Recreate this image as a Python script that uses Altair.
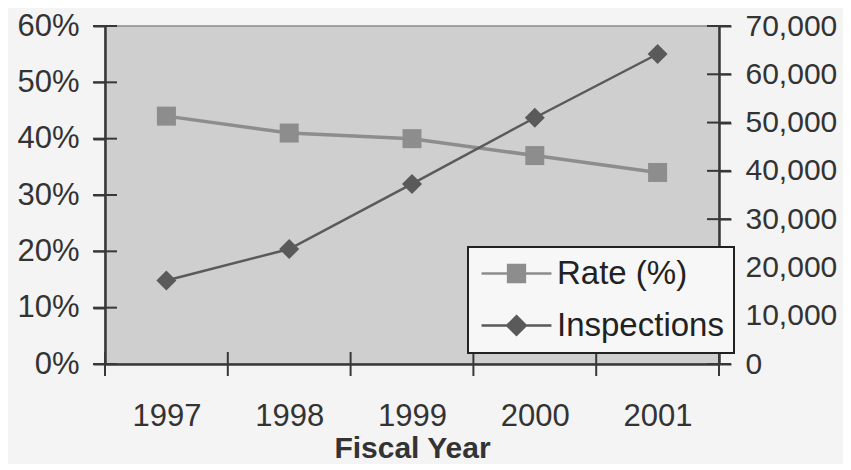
import altair as alt
import pandas as pd

years = [1997, 1998, 1999, 2000, 2001]
rate = [0.44, 0.41, 0.40, 0.37, 0.34]
inspections = [17300, 23800, 37300, 51000, 64200]
series_names = ["Rate (%)", "Inspections"]
rate_ticks = [0, 0.1, 0.2, 0.3, 0.4, 0.5, 0.6]
insp_ticks = [0, 10000, 20000, 30000, 40000, 50000, 60000, 70000]
year_bounds = [1996.5, 1997.5, 1998.5, 1999.5, 2000.5, 2001.5]

W, H = 614, 338
rate_color = "#8d8d8d"
insp_color = "#5a5a5a"
axis_color = "#383838"
FONT = "Liberation Sans"

df = pd.DataFrame({"year": years, "rate": rate, "inspections": inspections})
legend_df = pd.DataFrame({"series": series_names})

x_scale = alt.Scale(domain=[1996.5, 2001.5], nice=False, zero=False)
rate_scale = alt.Scale(domain=[0, 0.6], nice=False)
insp_scale = alt.Scale(domain=[0, 70000], nice=False)

x_axis = alt.Axis(values=years, format="d", title="Fiscal Year", ticks=False, tickSize=0,
                  labelPadding=37, domainColor=axis_color, domainWidth=2.5, grid=False,
                  labelFontSize=31, labelColor="#333333", labelFont=FONT,
                  titleFont=FONT, titleFontSize=30, titleFontWeight="bold",
                  titleColor="#333333", titlePadding=2)
left_axis = alt.Axis(values=rate_ticks, format=".0%", orient="left", title=None,
                     tickSize=12, tickWidth=2, tickColor=axis_color, labelPadding=14,
                     domainColor=axis_color, domainWidth=2.5, grid=False,
                     labelFontSize=31, labelColor="#333333", labelFont=FONT)
right_axis = alt.Axis(values=insp_ticks, format=",.0f", formatType="number",
                      orient="right", title=None,
                      tickSize=12, tickWidth=2, tickColor=axis_color, labelPadding=14,
                      domainColor=axis_color, domainWidth=2.5, grid=False,
                      labelFontSize=30, labelColor="#333333", labelFont=FONT)

X = alt.X("year:Q", scale=x_scale, axis=x_axis)

rate_line = alt.Chart(df).mark_line(color=rate_color, strokeWidth=3.5).encode(
    x=X, y=alt.Y("rate:Q", scale=rate_scale, axis=left_axis))
rate_pts = alt.Chart(df).mark_point(shape="square", filled=True, opacity=1,
                                    color=rate_color, size=361).encode(
    x=X, y=alt.Y("rate:Q", scale=rate_scale, axis=left_axis))
left_ticks = alt.Chart(pd.DataFrame({"v": rate_ticks})).mark_tick(
    orient="horizontal", size=24, thickness=2, color=axis_color, opacity=1).encode(
    y=alt.Y("v:Q", scale=rate_scale, axis=left_axis), x=alt.value(0))
x_ticks = alt.Chart(pd.DataFrame({"b": year_bounds})).mark_tick(
    orient="vertical", size=24, thickness=2, color=axis_color, opacity=1).encode(
    x=alt.X("b:Q", scale=x_scale, axis=x_axis), y=alt.value(H))

# legend symbols: a line with a square / diamond on it (unit = sqrt(symbolSize)/2 = 15px)
sq_path = "M-2.33,0H2.33M-0.56,-0.56H0.56V0.56H-0.56Z"
dm_path = "M-2.33,0H2.33M0,-0.62L0.62,0L0,0.62L-0.62,0Z"
leg = alt.Legend(title=None, orient="none", legendX=363, legendY=221, padding=10,
                 fillColor="#f7f7f7", strokeColor="#222222",
                 labelFont=FONT, labelFontSize=33, labelColor="#222222",
                 labelOffset=24, symbolOffset=22, rowPadding=18, symbolSize=900,
                 symbolStrokeWidth=2.5, labelLimit=0, symbolOpacity=1)
legend_layer = alt.Chart(legend_df).transform_filter("false").mark_point(
    filled=True, opacity=1).encode(
    color=alt.Color("series:N", scale=alt.Scale(domain=series_names,
                    range=[rate_color, insp_color]), legend=leg),
    stroke=alt.Stroke("series:N", scale=alt.Scale(domain=series_names,
                      range=[rate_color, insp_color]), legend=leg),
    shape=alt.Shape("series:N", scale=alt.Scale(domain=series_names,
                    range=[sq_path, dm_path]), legend=leg))

left = alt.layer(rate_line, rate_pts, left_ticks, x_ticks, legend_layer)

insp_line = alt.Chart(df).mark_line(color=insp_color, strokeWidth=2.5).encode(
    x=X, y=alt.Y("inspections:Q", scale=insp_scale, axis=right_axis))
insp_pts = alt.Chart(df).mark_point(shape="diamond", filled=True, opacity=1,
                                    color=insp_color, size=400).encode(
    x=X, y=alt.Y("inspections:Q", scale=insp_scale, axis=right_axis))
right_ticks = alt.Chart(pd.DataFrame({"v": insp_ticks})).mark_tick(
    orient="horizontal", size=24, thickness=2, color=axis_color, opacity=1).encode(
    y=alt.Y("v:Q", scale=insp_scale, axis=right_axis), x=alt.value(W))

right = alt.layer(insp_line, insp_pts, right_ticks)

chart = alt.layer(left, right).resolve_scale(y="independent").properties(
    width=W, height=H,
    autosize=alt.AutoSizeParams(type="none"),
    padding={"left": 97, "top": 18, "right": 124, "bottom": 100},
    background="#f4f4f4",
    view=alt.ViewBackground(fill="#cfcfcf", stroke="#8a8a8a", strokeWidth=1.5),
).configure_view(fill="#cfcfcf", stroke="#8a8a8a", strokeWidth=1.5
).configure_legend(strokeWidth=2)

chart.save("out.html", embed_options={"renderer": "svg", "actions": False})
